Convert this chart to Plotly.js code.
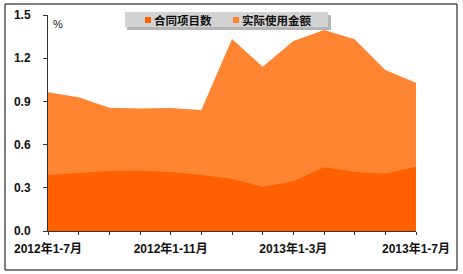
<!DOCTYPE html>
<html>
<head>
<meta charset="utf-8">
<script src="https://cdn.plot.ly/plotly-3.0.1.min.js"></script>
<style>
  html, body { margin: 0; padding: 0; background: #ffffff; }
  #chart { width: 463px; height: 274px; }
</style>
</head>
<body>
<div id="chart"></div>
<script>
// Months covered (cumulative periods)
const periods = [
  '2012年1-7月', '2012年1-8月', '2012年1-9月', '2012年1-10月', '2012年1-11月',
  '2012年1-12月', '2013年1月', '2013年1-2月', '2013年1-3月', '2013年1-4月',
  '2013年1-5月', '2013年1-6月', '2013年1-7月'
];
// Labels shown under the x axis (every fourth period)
const shownLabels = ['2012年1-7月', '', '', '', '2012年1-11月', '', '', '',
  '2013年1-3月', '', '', '', '2013年1-7月'];
// Share, %
const contractProjects = [0.389, 0.405, 0.417, 0.419, 0.410, 0.389, 0.363,
  0.308, 0.345, 0.442, 0.412, 0.398, 0.447];
const actualUse = [0.963, 0.928, 0.856, 0.850, 0.855, 0.840, 1.333,
  1.141, 1.320, 1.396, 1.331, 1.118, 1.030];
const seriesNames = ['合同项目数', '实际使用金额'];
const yTicks = [0, 0.3, 0.6, 0.9, 1.2, 1.5];

const cDark = '#ff6100';
const cLight = '#ff8533';

const traces = [
  {
    x: periods, y: actualUse, name: seriesNames[1], type: 'scatter', mode: 'lines',
    fill: 'tozeroy', fillcolor: cLight, line: { width: 0, color: cLight },
    hoverinfo: 'x+y'
  },
  {
    x: periods, y: contractProjects, name: seriesNames[0], type: 'scatter', mode: 'lines',
    fill: 'tozeroy', fillcolor: cDark, line: { width: 0, color: cDark },
    hoverinfo: 'x+y'
  }
];

// Plot area spans x 48..416, y 15..231 px
const L = 48, R = 416, T = 15, B = 231;
const px = v => (v - L) / (R - L);
const py = v => (B - v) / (B - T);

const tickFont = { family: 'Liberation Sans, Arial, Noto Sans CJK SC, sans-serif', size: 12, color: '#111111', weight: 'bold' };
const legFont = { family: 'Noto Sans CJK SC, sans-serif', size: 11.5, color: '#111111', weight: 'bold' };

const layout = {
  width: 463, height: 274,
  margin: { l: L, r: 463 - R, t: T, b: 274 - B, pad: 0 },
  paper_bgcolor: '#ffffff', plot_bgcolor: '#ffffff',
  showlegend: false,
  xaxis: {
    type: 'category', range: [0, periods.length - 1],
    tickmode: 'array', tickvals: periods, ticktext: shownLabels,
    ticks: 'outside', ticklen: 3, tickcolor: '#333333', tickwidth: 1,
    showline: true, linecolor: '#333333', linewidth: 1,
    showgrid: false, zeroline: false, tickangle: 0,
    tickfont: tickFont, ticklabelstandoff: 4
  },
  yaxis: {
    range: [0, 1.5], tickmode: 'array', tickvals: yTicks,
    ticktext: yTicks.map(v => v.toFixed(1)),
    ticks: 'outside', ticklen: 4, tickcolor: '#333333', tickwidth: 1,
    showline: true, linecolor: '#333333', linewidth: 1,
    showgrid: false, zeroline: false,
    tickfont: tickFont, ticklabelstandoff: 10
  },
  shapes: [
    // outer frame
    { type: 'rect', xref: 'paper', yref: 'paper', x0: px(5), x1: px(457), y0: py(270), y1: py(4),
      line: { color: '#000000', width: 1 }, fillcolor: 'rgba(0,0,0,0)', layer: 'above' },
    // legend shadow
    { type: 'rect', xref: 'paper', yref: 'paper', x0: px(127), x1: px(331), y0: py(30), y1: py(15),
      line: { width: 0 }, fillcolor: 'rgba(90,90,90,0.45)', layer: 'above' },
    // legend box
    { type: 'rect', xref: 'paper', yref: 'paper', x0: px(125), x1: px(328), y0: py(27), y1: py(12),
      line: { width: 0 }, fillcolor: '#d3d3d3', layer: 'above' },
    // legend swatches
    { type: 'rect', xref: 'paper', yref: 'paper', x0: px(145), x1: px(151), y0: py(23), y1: py(17),
      line: { width: 0 }, fillcolor: cDark, layer: 'above' },
    { type: 'rect', xref: 'paper', yref: 'paper', x0: px(233), x1: px(239), y0: py(23), y1: py(17),
      line: { width: 0 }, fillcolor: cLight, layer: 'above' }
  ],
  annotations: [
    { xref: 'paper', yref: 'paper', x: px(152), y: py(19.5), xanchor: 'left', yanchor: 'middle',
      text: seriesNames[0], showarrow: false, font: legFont },
    { xref: 'paper', yref: 'paper', x: px(240), y: py(19.5), xanchor: 'left', yanchor: 'middle',
      text: seriesNames[1], showarrow: false, font: legFont },
    { xref: 'paper', yref: 'paper', x: px(51), y: py(24), xanchor: 'left', yanchor: 'middle',
      text: '%', showarrow: false,
      font: { family: 'Liberation Sans, Arial, sans-serif', size: 11, color: '#111111' } }
  ]
};

Plotly.newPlot('chart', traces, layout, { displayModeBar: false, staticPlot: true });
</script>
</body>
</html>
